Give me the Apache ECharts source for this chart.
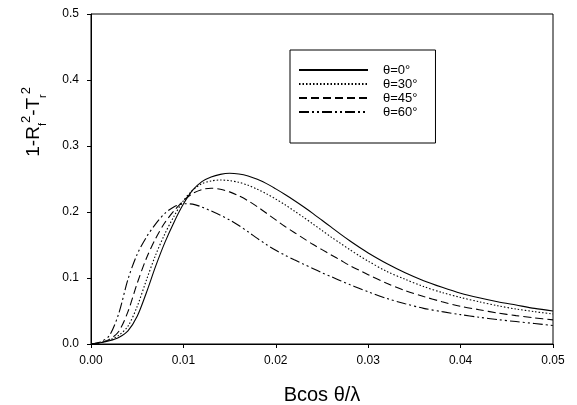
<!DOCTYPE html>
<html lang="en">
<head>
    <meta charset="UTF-8">
    <title>absorption</title>
    <script type="text/javascript" src="https://cdn.jsdelivr.net/npm/echarts@6/dist/echarts.min.js"></script>
    <style>
        body { margin: 0; background: #fff; }
    </style>
</head>
<body>
    <div id="main" style="width: 577px;height:405px;"></div>
    <script type="text/javascript">
    // x = Bcos(theta)/lambda
    var xs = [0, 0.001, 0.002, 0.003, 0.004, 0.005, 0.006, 0.007, 0.008, 0.009,
        0.010, 0.011, 0.012, 0.013, 0.014, 0.015, 0.016, 0.017, 0.018, 0.019,
        0.020, 0.021, 0.022, 0.023, 0.024, 0.025, 0.026, 0.027, 0.028, 0.029,
        0.030, 0.032, 0.034, 0.036, 0.038, 0.040, 0.042, 0.044, 0.046, 0.048, 0.050];

    var theta0 = [0, 0.002, 0.005, 0.010, 0.020, 0.042, 0.078, 0.118, 0.154, 0.185,
        0.212, 0.233, 0.246, 0.253, 0.257, 0.2586, 0.2575, 0.2545, 0.2495, 0.243,
        0.235, 0.2265, 0.2175, 0.208, 0.198, 0.1875, 0.177, 0.1665, 0.1565, 0.147,
        0.138, 0.122, 0.108, 0.096, 0.086, 0.077, 0.070, 0.064, 0.059, 0.054, 0.050];

    var theta30 = [0, 0.002, 0.006, 0.013, 0.027, 0.057, 0.097, 0.135, 0.167, 0.194,
        0.217, 0.233, 0.243, 0.247, 0.2485, 0.2475, 0.245, 0.2405, 0.2345, 0.2275,
        0.2195, 0.211, 0.2015, 0.192, 0.182, 0.172, 0.162, 0.1525, 0.143, 0.134,
        0.1255, 0.110, 0.098, 0.087, 0.078, 0.0705, 0.064, 0.058, 0.053, 0.049, 0.0455];

    var theta45 = [0, 0.002, 0.007, 0.019, 0.049, 0.092, 0.130, 0.160, 0.184, 0.202,
        0.217, 0.228, 0.234, 0.236, 0.2345, 0.2305, 0.2245, 0.217, 0.208, 0.198,
        0.188, 0.178, 0.169, 0.160, 0.151, 0.143, 0.135, 0.127, 0.119, 0.112,
        0.105, 0.092, 0.081, 0.072, 0.064, 0.057, 0.052, 0.047, 0.043, 0.0395, 0.0365];

    var theta60 = [0, 0.003, 0.013, 0.046, 0.098, 0.136, 0.162, 0.182, 0.198, 0.208,
        0.2125, 0.212, 0.2075, 0.2015, 0.195, 0.188, 0.1795, 0.170, 0.160, 0.1505,
        0.142, 0.1345, 0.1275, 0.121, 0.1145, 0.108, 0.102, 0.096, 0.090, 0.0845,
        0.079, 0.069, 0.061, 0.054, 0.049, 0.0445, 0.0405, 0.037, 0.034, 0.031, 0.028];

    var names = ['θ=0°', 'θ=30°', 'θ=45°', 'θ=60°'];
    var dashes = ['solid', [1.5, 2], [8, 4], [10, 3, 2, 3, 2, 3]];
    var values = [theta0, theta30, theta45, theta60];

    function pairs(ys) {
        return xs.map(function(x, i) { return [x, ys[i]]; });
    }

    var font = '"Liberation Sans", Arial, sans-serif';
    var myChart = echarts.init(document.getElementById('main'));

    var option = {
        animation: false,
        backgroundColor: '#fff',
        grid: {
            left: 91, right: 24, top: 14, bottom: 61,
            outerBoundsMode: 'none',
            show: true, borderColor: '#000', borderWidth: 1
        },
        legend: {
            orient: 'vertical',
            left: 290, top: 50,
            data: names,
            itemWidth: 69, itemHeight: 10, itemGap: 0,
            itemStyle: { opacity: 0 },
            padding: [13, 18, 24, 8],
            borderColor: '#000', borderWidth: 1,
            textStyle: { fontFamily: font, fontSize: 13, lineHeight: 14, color: '#000', padding: [0, 0, 0, 10] }
        },
        xAxis: {
            type: 'value', min: 0, max: 0.05, interval: 0.01,
            axisLine: { lineStyle: { color: '#000' } },
            axisTick: { inside: false, length: 4, lineStyle: { color: '#000' } },
            splitLine: { show: false },
            axisLabel: {
                color: '#000', fontFamily: font, fontSize: 12, margin: 11,
                formatter: function(v) { return v.toFixed(2); }
            },
            name: 'Bcos θ/λ', nameLocation: 'middle', nameGap: 41,
            nameTextStyle: { color: '#000', fontFamily: font, fontSize: 20 }
        },
        yAxis: {
            type: 'value', min: 0, max: 0.5, interval: 0.1,
            axisLine: { show: true, lineStyle: { color: '#000' } },
            axisTick: { show: true, inside: false, length: 4, lineStyle: { color: '#000' } },
            splitLine: { show: false },
            axisLabel: {
                color: '#000', fontFamily: font, fontSize: 12, margin: 12,
                formatter: function(v) { return v.toFixed(1); }
            }
        },
        graphic: [{
            type: 'text',
            left: 20, top: 87,
            rotation: Math.PI / 2,
            style: {
                text: '1-R{sub|f}{sup|2}-T{sub|r}{sup|2}',
                fontFamily: font, fontSize: 19, fill: '#000',
                rich: {
                    sub: { fontFamily: font, fontSize: 11, verticalAlign: 'bottom', lineHeight: 28, padding: [9, 0, 0, 0] },
                    sup: { fontFamily: font, fontSize: 13, verticalAlign: 'top', lineHeight: 28 }
                }
            }
        }],
        series: values.map(function(v, i) {
            return {
                name: names[i],
                type: 'line',
                smooth: 0.3,
                showSymbol: false,
                symbol: 'none',
                data: pairs(v),
                itemStyle: { color: '#000' },
                lineStyle: { color: '#000', width: 1.1, type: dashes[i] }
            };
        })
    };

    myChart.setOption(option);
    </script>
</body>
</html>
